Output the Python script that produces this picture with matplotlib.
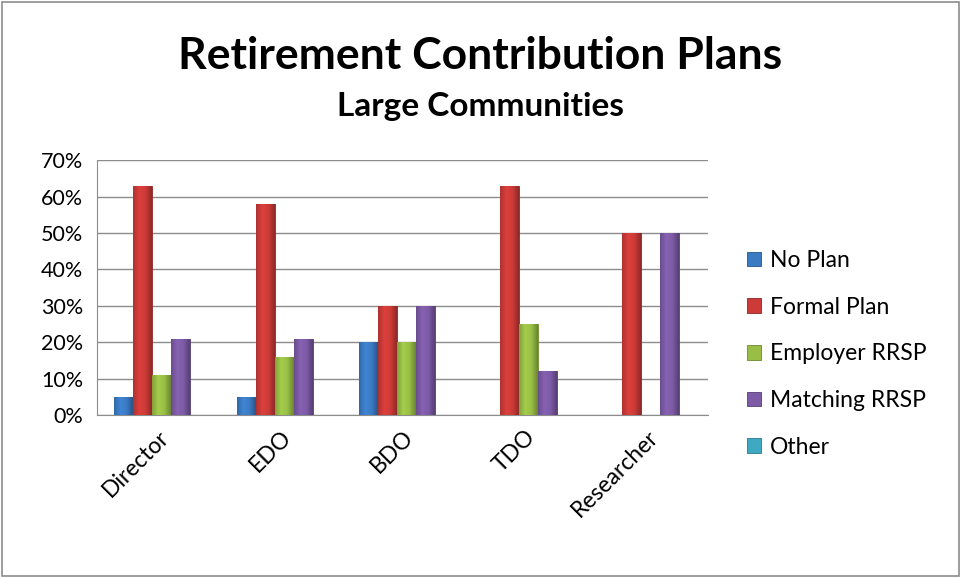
import matplotlib
matplotlib.use('Agg')
import matplotlib.pyplot as plt
import numpy as np
from matplotlib.colors import LinearSegmentedColormap, to_rgb
from matplotlib.ticker import PercentFormatter

categories = ["Director", "EDO", "BDO", "TDO", "Researcher"]
series_names = ["No Plan", "Formal Plan", "Employer RRSP", "Matching RRSP", "Other"]
no_plan = [5, 5, 20, 0, 0]
formal_plan = [63, 58, 30, 63, 50]
employer_rrsp = [11, 16, 20, 25, 0]
matching_rrsp = [21, 21, 30, 12, 50]
other = [0, 0, 0, 0, 0]

values = [no_plan, formal_plan, employer_rrsp, matching_rrsp, other]
colors = ['#3B7BC4', '#CC3B38', '#98BE45', '#7D5BA6', '#3FA9C4']
edges = ['#24558C', '#8E2523', '#6A8A2B', '#553D77', '#2A7A8E']

plt.rcParams['font.family'] = ['Lato', 'DejaVu Sans']


def shade(c, f):
    r = np.array(to_rgb(c))
    return tuple(np.clip(r * f, 0, 1))


fig = plt.figure(figsize=(9.61, 5.78), dpi=100)
ax = fig.add_axes([0.101, 0.282, 0.636, 0.441])

x = np.arange(len(categories))
width = 0.155
offsets = (np.arange(len(series_names)) - 2) * width + 0.03
grad = np.linspace(0, 1, 64).reshape(1, -1)
for i, (name, vals) in enumerate(zip(series_names, values)):
    bars = ax.bar(x + offsets[i], vals, width, label=name, color=colors[i],
                  edgecolor=edges[i], linewidth=0.6, zorder=3)
    cmap = LinearSegmentedColormap.from_list(
        name, [shade(colors[i], 0.85), shade(colors[i], 1.08),
               shade(colors[i], 1.0), shade(colors[i], 0.7)])
    for b in bars:
        h = b.get_height()
        if h <= 0:
            continue
        x0 = b.get_x()
        im = ax.imshow(grad, cmap=cmap, aspect='auto', zorder=3.5,
                       extent=(x0, x0 + b.get_width(), 0, h))
        im.set_clip_path(b)

ax.set_ylim(0, 70)
ax.set_xlim(-0.5, len(categories) - 0.5)
ax.set_yticks(np.arange(0, 71, 10))
ax.yaxis.set_major_formatter(PercentFormatter(decimals=0))
ax.grid(axis='y', color='#8C8C8C', linewidth=1, zorder=0)
ax.set_axisbelow(True)
for s in ['top', 'right']:
    ax.spines[s].set_visible(False)
for s in ['left', 'bottom']:
    ax.spines[s].set_color('#8C8C8C')
ax.tick_params(axis='y', length=0, labelsize=15.5, pad=10)
ax.tick_params(axis='x', length=0, labelsize=16.5, pad=8)
ax.set_xticks(x)
ax.set_xticklabels(categories, rotation=45, ha='right', rotation_mode='anchor')

ax.legend(loc='center left', bbox_to_anchor=(1.03, 0.24), frameon=False,
          fontsize=16.5, handlelength=0.6, handleheight=0.6, handletextpad=0.4,
          labelspacing=1.12)

fig.text(0.5, 0.903, "Retirement Contribution Plans", ha='center', va='center',
         fontsize=32, fontweight='bold')
fig.text(0.5, 0.815, "Large Communities", ha='center', va='center',
         fontsize=24, fontweight='bold')

border = plt.Rectangle((0.002, 0.003), 0.996, 0.994, transform=fig.transFigure,
                       fill=False, edgecolor='#8C8C8C', linewidth=1.2)
fig.patches.append(border)

fig.savefig('out.png', dpi=100, facecolor='white')
